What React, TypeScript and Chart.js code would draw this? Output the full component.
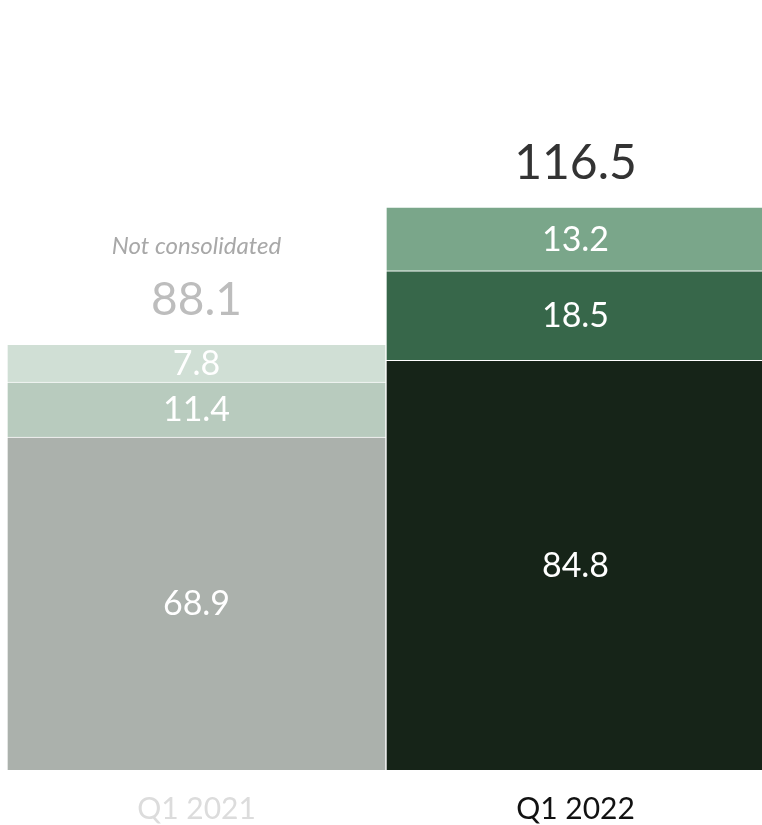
import React, { useEffect, useRef } from "react";
import { Chart, registerables } from "chart.js";

Chart.register(...registerables);

const categories = ["Q1 2021", "Q1 2022"];
const baseValues = [68.9, 84.8];
const midValues = [11.4, 18.5];
const topValues = [7.8, 13.2];
const totals = ["88.1", "116.5"];
const notes = ["Not consolidated", ""];

const baseColors = ["#abb1ac", "#162418"];
const midColors = ["#b8cbbe", "#37674a"];
const topColors = ["#d0dfd5", "#7aa68a"];
const tickColors = ["#dcdcdc", "#111111"];
const totalColors = ["#bdbdbd", "#333333"];

const FONT = "Lato, 'Noto Sans', sans-serif";

const labelPlugin = {
  id: "labels",
  afterDatasetsDraw(chart: any) {
    const ctx = chart.ctx;
    ctx.save();
    ctx.textAlign = "center";
    ctx.textBaseline = "middle";
    ctx.fillStyle = "#ffffff";
    ctx.font = `400 34px ${FONT}`;
    chart.data.datasets.forEach((ds: any, di: number) => {
      const meta = chart.getDatasetMeta(di);
      meta.data.forEach((el: any, i: number) => {
        const v = ds.data[i];
        ctx.fillText(String(v.toFixed(1)), el.x, (el.y + el.base) / 2 + 1);
      });
    });
    const last = chart.getDatasetMeta(chart.data.datasets.length - 1);
    last.data.forEach((el: any, i: number) => {
      ctx.fillStyle = totalColors[i];
      ctx.font = `400 ${i === 0 ? 46 : 48}px ${FONT}`;
      ctx.fillText(totals[i], el.x, el.y - 44);
      if (notes[i]) {
        ctx.font = `italic 400 24px ${FONT}`;
        ctx.fillStyle = "#a8a8a8";
        ctx.fillText(notes[i], el.x, el.y - 98);
      }
    });
    ctx.restore();
  },
};

export default function App() {
  const ref = useRef<HTMLCanvasElement>(null);
  useEffect(() => {
    if (!ref.current) return;
    const chart = new Chart(ref.current, {
      type: "bar",
      data: {
        labels: categories,
        datasets: [
          { data: baseValues, backgroundColor: baseColors, borderColor: "#ffffff", borderWidth: 1 },
          { data: midValues, backgroundColor: midColors, borderColor: "#ffffff", borderWidth: 1 },
          { data: topValues, backgroundColor: topColors, borderColor: "#ffffff", borderWidth: 1 },
        ],
      },
      options: {
        responsive: false,
        animation: false,
        layout: { padding: { left: 7, right: 5, top: 21, bottom: 2 } },
        plugins: { legend: { display: false }, tooltip: { enabled: false } },
        datasets: { bar: { barPercentage: 1, categoryPercentage: 1 } },
        scales: {
          x: {
            stacked: true,
            grid: { display: false },
            border: { display: false },
            ticks: {
              padding: 13,
              font: { family: FONT, size: 30 },
              color: (c: any) => tickColors[c.index] ?? "#111",
            },
          },
          y: { stacked: true, display: false, min: 0, max: 155 },
        },
      },
      plugins: [labelPlugin],
    });
    return () => chart.destroy();
  }, []);
  return (
    <div style={{ position: "absolute", left: 0, top: 0, width: 762, height: 825, overflow: "hidden" }}>
      <canvas ref={ref} width={770} height={842} style={{ display: "block" }} />
    </div>
  );
}
